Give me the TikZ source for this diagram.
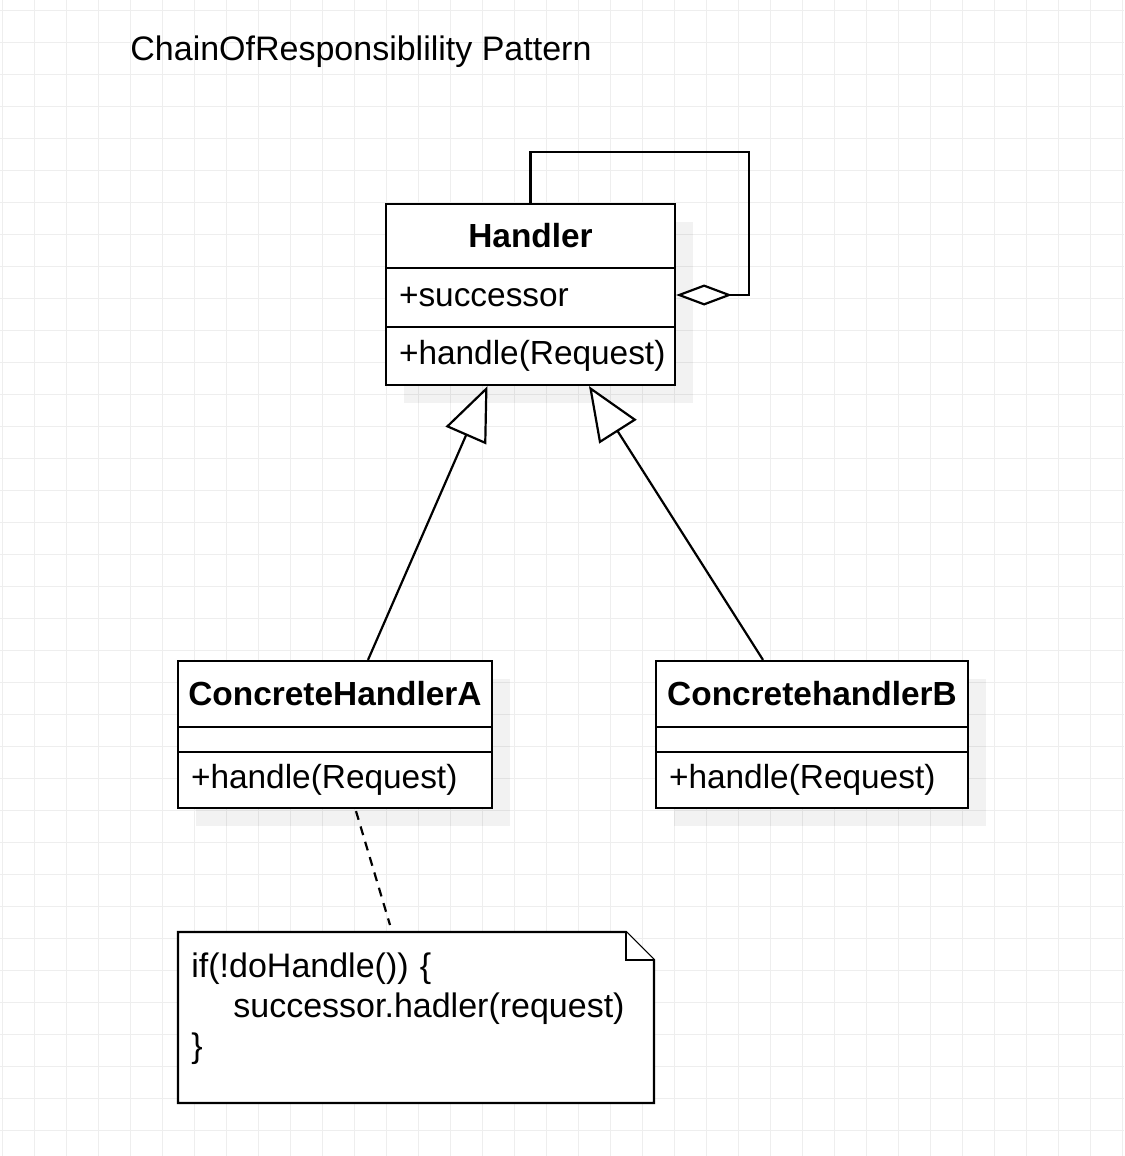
\documentclass[tikz,border=0pt]{standalone}
\usepackage{fontspec}
\setmainfont{Liberation Sans}
\usetikzlibrary{arrows.meta,calc,shadows}
\definecolor{gridgray}{HTML}{EEEEEE}
\newcommand\umlsize{\fontsize{16.7}{20}\selectfont}
\newcommand\notesize{\fontsize{17}{20}\selectfont}
\tikzset{
    gridline/.style={draw=gridgray, line width=0.5pt},
    classshadow/.style={general shadow={fill=black, opacity=0.05, shadow xshift=9pt, shadow yshift=-9pt}},
    classhead/.style={draw, fill=white, line width=1.1pt, font=\umlsize\bfseries, minimum width=#1, inner sep=0pt, classshadow},
    member/.style={draw, fill=white, line width=1.1pt, font=\umlsize, text width=#1, align=left, inner xsep=6.5pt, inner ysep=0pt, classshadow},
    inherit/.style={line width=1.1pt, -{Triangle[fill=white, length=27pt, width=22pt]}},
    aggregation/.style={line width=1.1pt, -{Diamond[fill=white, length=28pt, width=10.5pt]}},
    notebox/.style={draw, fill=white, line width=1.1pt, line join=miter},
    notetext/.style={font=\notesize, text width=225pt, align=left, inner xsep=6.5pt, inner ysep=10pt},
    noteline/.style={line width=1.1pt, dash pattern=on 4.5pt off 3.5pt}
}
\begin{document}
\begin{tikzpicture}[x=0.5pt, y=-0.5pt]
        \useasboundingbox (0, 0) rectangle (1124, 1156);
        \fill[white] (0, 0) rectangle (1124, 1156);
        \foreach \gx in {2.7,34.7,...,1124} \draw[gridline] (\gx, 0) -- (\gx, 1156);
        \foreach \gy in {10.7,42.7,...,1156} \draw[gridline] (0, \gy) -- (1124, \gy);

        \node[anchor=base west, font=\notesize, inner xsep=0pt] at (130, 61) (title) {ChainOfResponsiblility Pattern};

        \node[classhead=144.5pt, minimum height=32pt] at (530.5, 236) (hhead) {Handler};
        \node[member=131.5pt, minimum height=29.5pt] at (530.5, 297.5) (hattr) {+successor};
        \node[member=131.5pt, minimum height=29pt] at (530.5, 356) (hmeth) {+handle(Request)};

        \node[classhead=157pt, minimum height=33pt] at (335, 694) (ahead) {ConcreteHandlerA};
        \node[member=144pt, minimum height=12.5pt] at (335, 739.5) (aattr) {};
        \node[member=144pt, minimum height=28pt] at (335, 780) (ameth) {+handle(Request)};

        \node[classhead=156pt, minimum height=33pt] at (812, 694) (bhead) {ConcretehandlerB};
        \node[member=143pt, minimum height=12.5pt] at (812, 739.5) (battr) {};
        \node[member=143pt, minimum height=28pt] at (812, 780) (bmeth) {+handle(Request)};

        \coordinate (loopcorner) at (749, 152);
        \draw[aggregation] (hhead.north) |- (loopcorner) |- ($(hattr.east)+(0, -2.5)$);
        \draw[inherit] ($(ahead.north)+(33, 0)$) -- ($(hmeth.south)+(-43, 0)$);
        \draw[inherit] ($(bhead.north)+(-49, 0)$) -- ($(hmeth.south)+(58.5, 0)$);

        \coordinate (notecorner) at (178, 932);
        \draw[notebox] (notecorner) -- ++(0, 171) -| ++(476, -143) -- ++(-28, -28) -- cycle;
        \draw[notebox] ($(notecorner)+(448, 0)$) |- ($(notecorner)+(476, 28)$);
        \node[notetext, anchor=north west] at (notecorner) (note) {if(!doHandle()) \{\\\hspace*{21pt}successor.hadler(request)\\\}};
        \draw[noteline] ($(ameth.south)+(21, 2)$) -- ($(note.north west)+(212, -7)$);
    \end{tikzpicture}
\end{document}
